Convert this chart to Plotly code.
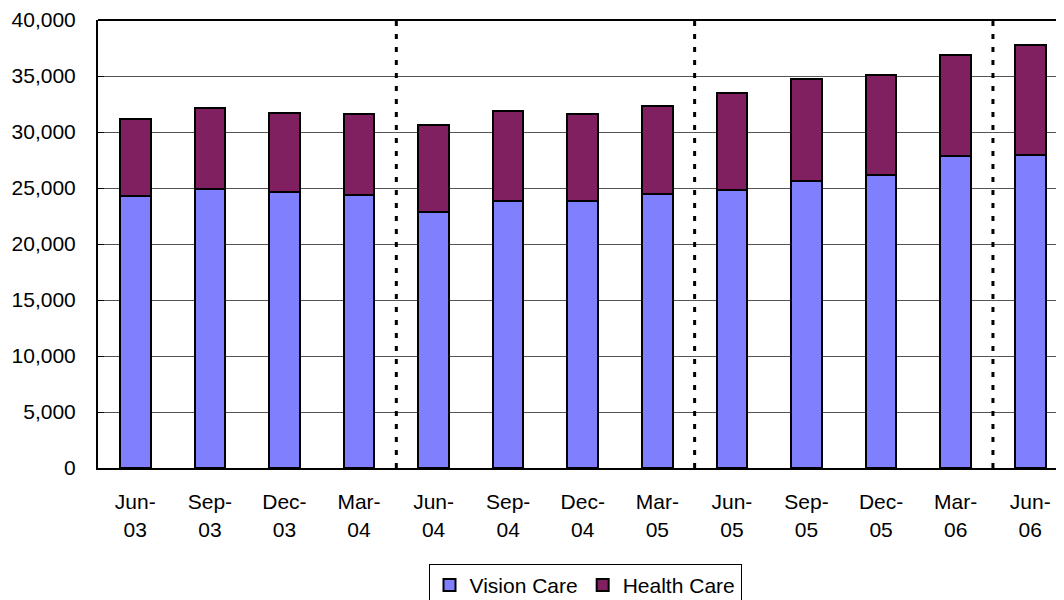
import plotly.graph_objects as go

categories = ["Jun-<br>03", "Sep-<br>03", "Dec-<br>03", "Mar-<br>04", "Jun-<br>04", "Sep-<br>04",
              "Dec-<br>04", "Mar-<br>05", "Jun-<br>05", "Sep-<br>05", "Dec-<br>05", "Mar-<br>06", "Jun-<br>06"]
vision_care = [24290, 24880, 24600, 24400, 22900, 23800, 23800, 24460, 24800, 25600, 26160, 27860, 27950]
health_care = [6860, 7260, 7070, 7200, 7700, 8100, 7800, 7840, 8650, 9100, 8940, 8990, 9790]
divider_positions = [3.5, 7.5, 11.5]

x = list(range(len(categories)))
fig = go.Figure()
fig.add_trace(go.Bar(x=x, y=vision_care, name="Vision Care", width=0.41,
                     marker=dict(color="#8080FF", line=dict(color="black", width=2))))
fig.add_trace(go.Bar(x=x, y=health_care, name="Health Care", width=0.41,
                     marker=dict(color="#802060", line=dict(color="black", width=2))))

for p in divider_positions:
    fig.add_shape(type="line", xref="x", yref="paper", x0=p, x1=p, y0=0, y1=1,
                  line=dict(color="black", width=3, dash="5px,8px"))

font = dict(family="Liberation Sans, Arial, sans-serif", size=21, color="black")
fig.update_layout(
    barmode="stack",
    width=1064, height=600,
    margin=dict(l=90, r=0, t=12, b=140, autoexpand=False),
    plot_bgcolor="white", paper_bgcolor="white",
    font=font,
    showlegend=True,
    legend=dict(orientation="h", x=0.5, xanchor="center", y=-0.214, yanchor="top",
                bordercolor="black", borderwidth=1, font=dict(size=21),
                itemwidth=30, traceorder="normal"),
    bargap=0.59,
)
fig.update_xaxes(tickvals=x, ticktext=categories, range=[-0.5, 12.56],
                 showline=True, linecolor="black", linewidth=2, showgrid=False,
                 ticks="", tickfont=font, automargin=False, ticklabelstandoff=14)
fig.update_yaxes(range=[0, 40000], tickvals=list(range(0, 40001, 5000)), tickformat=",",
                 showline=True, linecolor="black", linewidth=2, mirror=False,
                 showgrid=True, gridcolor="#555555", gridwidth=1,
                 ticks="inside", ticklen=6, tickcolor="black", tickfont=font, zeroline=False,
                 automargin=False, ticklabelstandoff=16)
fig.add_shape(type="line", xref="paper", yref="paper", x0=0, x1=1, y0=1, y1=1,
              line=dict(color="black", width=2))
fig.write_html("out.html")
